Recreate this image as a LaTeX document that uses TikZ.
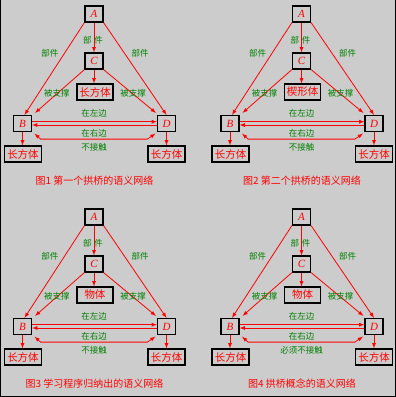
\documentclass[tikz,border=0pt]{standalone}
\usepackage{fontspec}
\usepackage{tikz}
\usetikzlibrary{arrows}
\newfontfamily\cjk{Noto Sans CJK SC}
\newfontfamily\latin{Liberation Serif}
\definecolor{netred}{RGB}{255,0,0}
\definecolor{netgreen}{RGB}{0,128,0}
\definecolor{paper}{RGB}{204,204,204}
\tikzset{
    letterbox/.style={draw=black, line width=1.2pt, minimum width=18pt, minimum height=16pt,
            inner sep=0pt, text=netred, font=\latin\itshape\fontsize{11}{11}\selectfont},
    shapebox/.style={draw=black, line width=1.2pt, minimum width=36pt, minimum height=16pt,
            inner sep=0pt, text=netred, font=\cjk\fontsize{10.5}{11}\selectfont},
    link/.style={draw=netred, line width=0.8pt, ->, >=latex},
    tag/.style={text=netgreen, inner sep=0pt, font=\cjk\fontsize{8.5}{9}\selectfont},
    figcap/.style={text=netred, inner sep=0pt, font=\cjk\fontsize{10}{11}\selectfont},
    arch net/.pic={
            \tikzset{%
                /archnet/.cd,
                #1
            }
            % the four blocks and the shapes they are
            \node[letterbox] (A) at (94,14) {A};
            \node[letterbox] (C) at (94,61) {C};
            \node[letterbox] (B) at (22.5,123.5) {B};
            \node[letterbox] (D) at (166.5,123.5) {D};
            \node[shapebox] (top) at (95,92) {\archmid};
            \node[shapebox, minimum width=37pt] (lowB) at (23,154) {长方体};
            \node[shapebox, minimum width=37pt] (lowD) at (166.5,154) {长方体};
            % links
            \draw[link] (A) -- (C);
            \draw[link] (A.south west) -- ([xshift=2pt]B.north);
            \draw[link] (A.south east) -- (D.north);
            \draw[link] (C.south west) -- ([shift={(3pt,2pt)}]B.north east);
            \draw[link] (C.south east) -- ([shift={(-1pt,2pt)}]D.north west);
            \draw[link] (C.south) -- (C.south |- top.north);
            \draw[link] (B.south) -- (B.south |- lowB.north);
            \draw[link] (D.south) -- (D.south |- lowD.north);
            \draw[link] ([yshift=1.8pt]B.east) -- ([yshift=1.8pt]D.west);
            \draw[link] ([yshift=-1.5pt]D.west) -- ([yshift=-1.5pt]B.east);
            \draw[link, <->] ([shift={(2.5pt,-1.5pt)}]B.south east) -- ++(6pt,-5.5pt)
                -- ([shift={(-9.5pt,-7pt)}]D.south west) -- ([shift={(-1.5pt,-1.5pt)}]D.south west);
            % labels
            \node[tag] (tagAC) at (93,40) {部\hspace{3pt}件};
            \node[tag] (tagAB) at (50,53) {部件};
            \node[tag] (tagAD) at (140,53) {部件};
            \node[tag] (tagCB) at (57,93) {被支撑};
            \node[tag] (tagCD) at (133,93) {被支撑};
            \node[tag] (left) at (94,113) {在左边};
            \node[tag] (right) at (94,133) {在右边};
            \node[tag] (touch) at (94,147) {\archtouch};
            \node[figcap] (cap) at (94.5,181) {\archcap};
        },
    /archnet/.search also={/tikz},
    /archnet/.cd,
    middle/.store in=\archmid,
    contact/.store in=\archtouch,
    caption/.store in=\archcap,
    middle=长方体,
    contact=不接触,
    caption=,
}

\begin{document}
\begin{tikzpicture}[x=1pt, y=-1pt]
    \useasboundingbox (0,0) rectangle (396,397);
    \fill[paper] (0,0) rectangle (396,397);
    \draw[line width=1pt] (0.5,0) -- (0.5,396.5) -- (395.5,396.5) -- (395.5,0);
    \pic (n1) at (0,0) {arch net={caption=图1 第一个拱桥的语义网络}};
    \pic (n2) at (207.5,0) {arch net={middle=楔形体, caption=图2 第二个拱桥的语义网络}};
    \pic (n3) at (0,203) {arch net={middle=物体, caption=图3 学习程序归纳出的语义网络}};
    \pic (n4) at (207.5,203) {arch net={middle=物体, contact=必须不接触, caption=图4 拱桥概念的语义网络}};
\end{tikzpicture}
\end{document}
